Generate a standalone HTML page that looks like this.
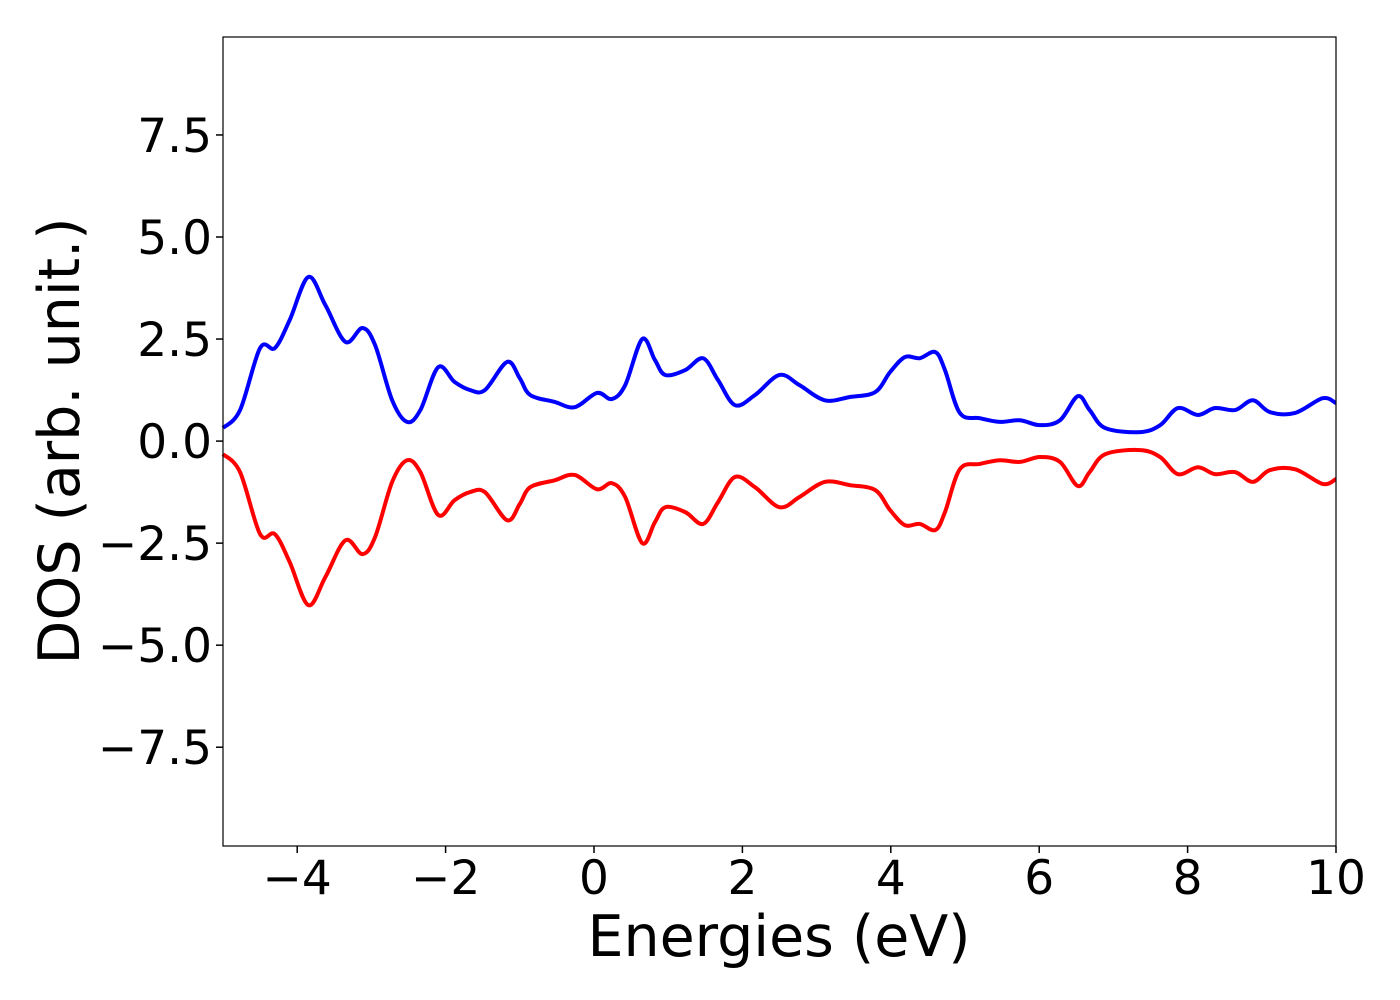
<!DOCTYPE html>
<html><head><meta charset="utf-8"><style>
body{margin:0;background:#fff;}
svg{display:block;font-family:"DejaVu Sans","Liberation Sans",sans-serif;}
</style></head><body>
<svg id="chart" width="1400" height="1000">
<g id="marks"></g>
<rect x="223" y="37" width="1113" height="809" fill="none" stroke="#000" stroke-width="1.2"/>
<g id="axes"></g>
<text x="779" y="956" font-size="57" text-anchor="middle">Energies (eV)</text>
<text transform="translate(79,441) rotate(-90)" font-size="57" text-anchor="middle">DOS (arb. unit.)</text>
</svg>
<script>
const energies=[-5,-4.77,-4.5,-4.3,-4.1,-3.85,-3.62,-3.35,-3.12,-2.95,-2.72,-2.52,-2.34,-2.1,-1.88,-1.67,-1.47,-1.17,-1.0,-0.86,-0.53,-0.26,0.04,0.24,0.42,0.65,0.82,0.96,1.23,1.47,1.67,1.9,2.17,2.5,2.77,3.11,3.45,3.79,3.99,4.19,4.39,4.6,4.73,4.93,5.2,5.47,5.74,6.01,6.28,6.52,6.68,6.89,7.36,7.63,7.87,8.14,8.37,8.64,8.88,9.11,9.45,9.82,10];
const dosUp=[0.32,0.76,2.28,2.28,2.97,4.02,3.33,2.43,2.77,2.35,1.0,0.47,0.76,1.81,1.45,1.25,1.25,1.94,1.54,1.13,0.96,0.83,1.18,1.03,1.37,2.5,1.99,1.62,1.74,2.03,1.5,0.88,1.13,1.62,1.37,1.0,1.08,1.2,1.69,2.06,2.03,2.18,1.74,0.69,0.56,0.47,0.51,0.39,0.51,1.1,0.76,0.32,0.22,0.39,0.81,0.64,0.81,0.76,1.0,0.71,0.69,1.05,0.93];
const dosDown=[-0.32,-0.76,-2.28,-2.28,-2.97,-4.02,-3.33,-2.43,-2.77,-2.35,-1.0,-0.47,-0.76,-1.81,-1.45,-1.25,-1.25,-1.94,-1.54,-1.13,-0.96,-0.83,-1.18,-1.03,-1.37,-2.5,-1.99,-1.62,-1.74,-2.03,-1.5,-0.88,-1.13,-1.62,-1.37,-1.0,-1.08,-1.2,-1.69,-2.06,-2.03,-2.18,-1.74,-0.69,-0.56,-0.47,-0.51,-0.39,-0.51,-1.1,-0.76,-0.32,-0.22,-0.39,-0.81,-0.64,-0.81,-0.76,-1.0,-0.71,-0.69,-1.05,-0.93];
const xTicks=[-4,-2,0,2,4,6,8,10];
const yTicks=[-7.5,-5,-2.5,0,2.5,5,7.5];
const X0=223,X1=1336,Y0=37,Y1=846,XMIN=-5,XMAX=10,YMIN=-9.92,YMAX=9.9;
const sx=v=>X0+(v-XMIN)/(XMAX-XMIN)*(X1-X0);
const sy=v=>Y1-(v-YMIN)/(YMAX-YMIN)*(Y1-Y0);
const NS="http://www.w3.org/2000/svg";
function pathFor(xs,ys){
  const p=xs.map((x,i)=>[sx(x),sy(ys[i])]);
  let d="M"+p[0][0]+","+p[0][1];
  for(let i=0;i<p.length-1;i++){
    const a=p[Math.max(0,i-1)],b=p[i],c=p[i+1],e=p[Math.min(p.length-1,i+2)];
    d+=" C"+(b[0]+(c[0]-a[0])/6)+","+(b[1]+(c[1]-a[1])/6)+" "+(c[0]-(e[0]-b[0])/6)+","+(c[1]-(e[1]-b[1])/6)+" "+c[0]+","+c[1];
  }
  return d;
}
const marks=document.getElementById('marks');
[[dosUp,'#0000ff','spin-up-line'],[dosDown,'#ff0000','spin-down-line']].forEach(s=>{
  const el=document.createElementNS(NS,'path');
  el.setAttribute('d',pathFor(energies,s[0]));
  el.setAttribute('fill','none');el.setAttribute('stroke',s[1]);el.setAttribute('stroke-width','4');
  
  
  marks.appendChild(el);
});
const axes=document.getElementById('axes');
const fmt=v=>(v<0?"\u2212":"")+Math.abs(v);
xTicks.forEach(v=>{
  const l=document.createElementNS(NS,'line');
  l.setAttribute('x1',sx(v));l.setAttribute('x2',sx(v));l.setAttribute('y1',Y1);l.setAttribute('y2',Y1+7);l.setAttribute('stroke','#000');l.setAttribute('stroke-width','1.5');
  
  
  axes.appendChild(l);
  const t=document.createElementNS(NS,'text');
  t.setAttribute('x',sx(v));t.setAttribute('y',894);t.setAttribute('font-size','47');t.setAttribute('text-anchor','middle');
  t.textContent=fmt(v);
  
  
  axes.appendChild(t);
});
yTicks.forEach(v=>{
  const l=document.createElementNS(NS,'line');
  l.setAttribute('x1',X0-7);l.setAttribute('x2',X0);l.setAttribute('y1',sy(v));l.setAttribute('y2',sy(v));l.setAttribute('stroke','#000');l.setAttribute('stroke-width','1.5');
  
  
  axes.appendChild(l);
  const t=document.createElementNS(NS,'text');
  t.setAttribute('x',212);t.setAttribute('y',sy(v)+17);t.setAttribute('font-size','47');t.setAttribute('text-anchor','end');
  t.textContent=fmt(v.toFixed(1)*1).replace(/^(\u2212?\d+)$/,"$1.0");
  
  
  axes.appendChild(t);
});
</script>
</body></html>
